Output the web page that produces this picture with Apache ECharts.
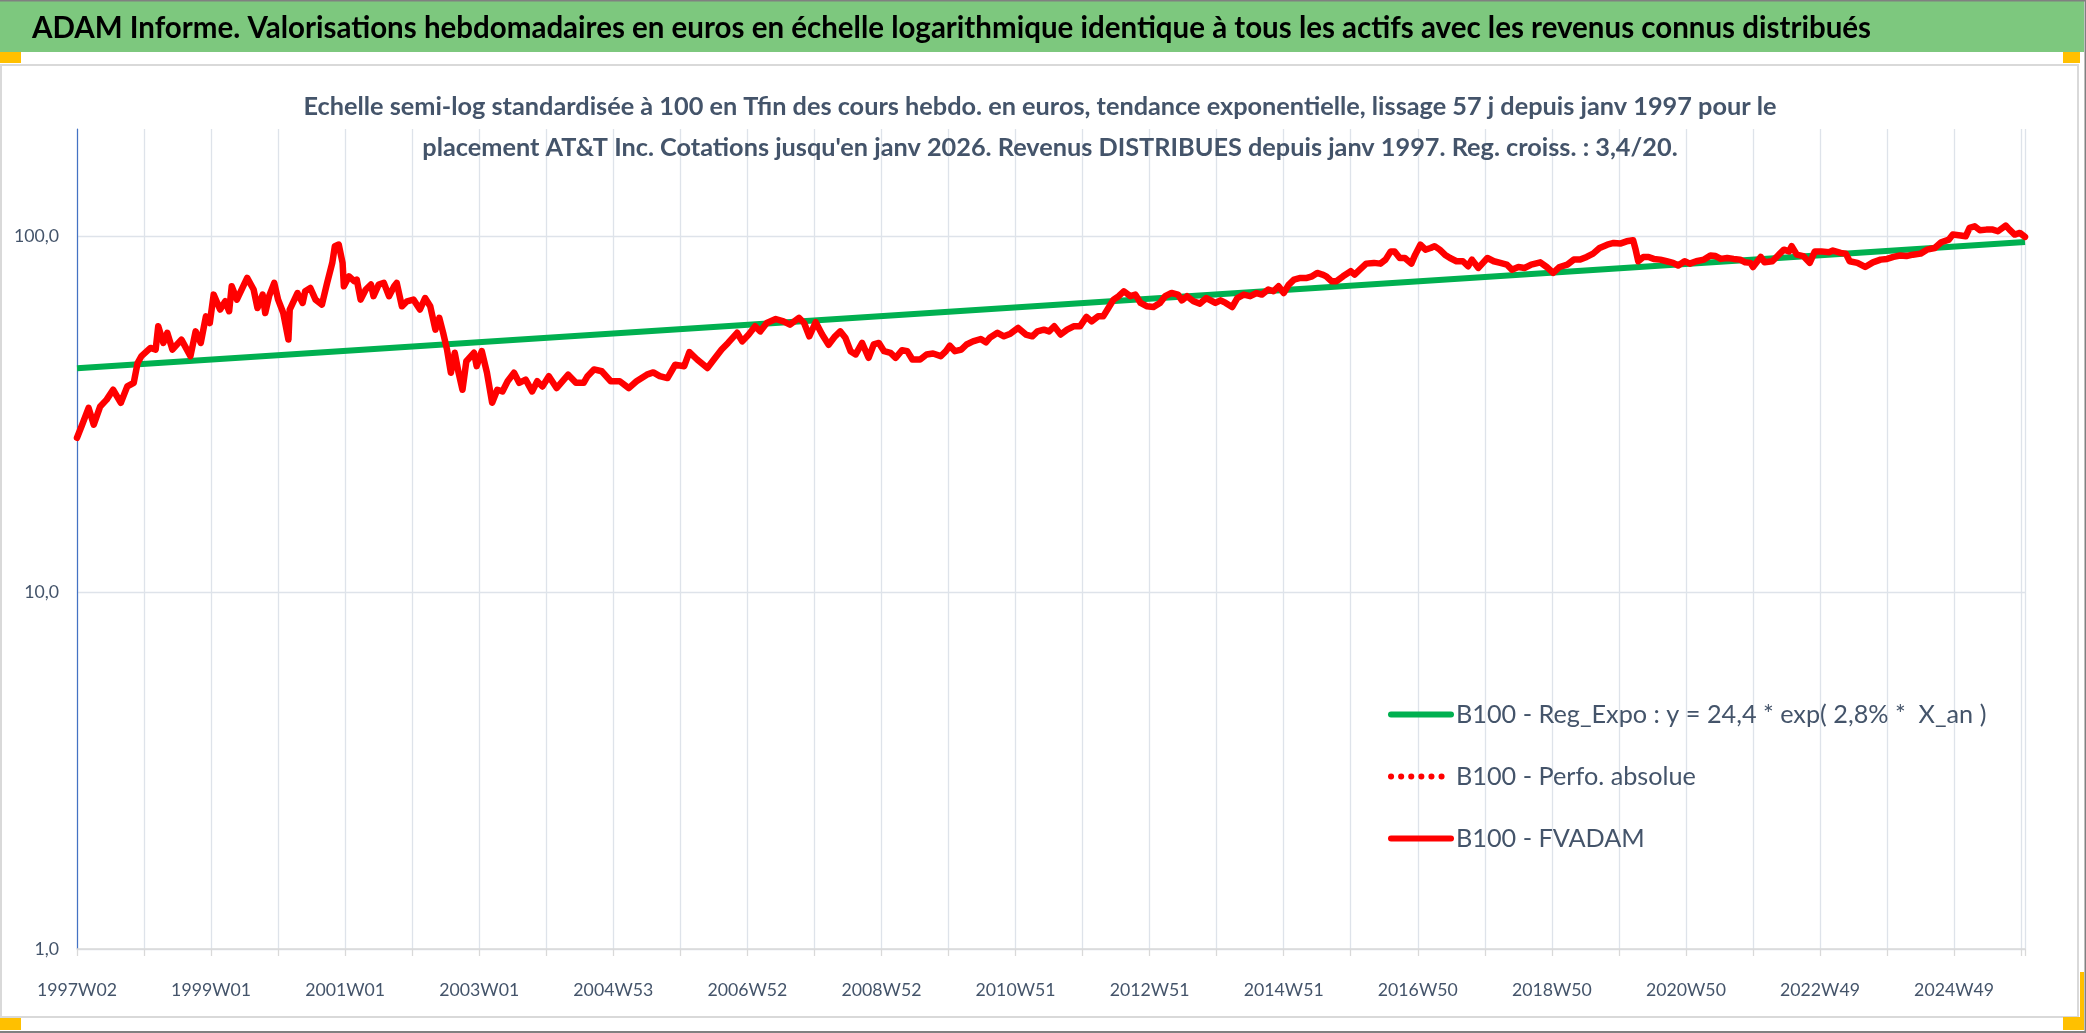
<!DOCTYPE html>
<html><head><meta charset="utf-8">
<script src="https://cdn.jsdelivr.net/npm/echarts@6.0.0/dist/echarts.min.js"></script>
<style>html,body{margin:0;padding:0;background:#fff;}#c{width:2086px;height:1033px;}</style>
</head><body><div id="c"></div>
<script>
// ---- data ----
const tickLabels = ['1997W02','1999W01','2001W01','2003W01','2004W53','2006W52','2008W52','2010W51','2012W51','2014W51','2016W50','2018W50','2020W50','2022W49','2024W49'];
const seriesNames = ['B100 - Reg_Expo : y = 24,4 * exp( 2,8% *  X_an )','B100 - Perfo. absolue','B100 - FVADAM'];
const titleText = 'ADAM Informe. Valorisations hebdomadaires en euros en échelle logarithmique identique à tous les actifs avec les revenus connus distribués';
const subtitleLines = ["Echelle semi-log standardisée à 100 en Tfin des cours hebdo. en euros, tendance exponentielle, lissage 57 j depuis janv 1997 pour le",
  "placement AT&T Inc. Cotations jusqu'en janv 2026. Revenus DISTRIBUES depuis janv 1997. Reg. croiss. : 3,4/20."];
// week index counted from 1997W02
const fvWeeks = [0,4,9,13,18,23,28,34,39,44,47,50,57,61,63,67,70,74,81,88,92,96,100,103,106,111,115,118,120,124,132,137,140,144,146,149,153,156,160,164,165,171,175,177,181,185,190,194,198,200,203,206,207,211,215,217,220,224,228,230,234,238,242,246,248,252,256,261,266,
270,274,278,281,284,287,290,293,296,299,302,308,310,314,318,322,326,330,334,339,343,348,353,357,361,366,372,381,387,393,396,401,407,414,421,428,434,442,447,452,458,464,471,475,481,489,494,500,505,512,516,521,526,530,535,542,548,553,560,564,568,573,578,583,588,592,
596,600,604,609,614,618,622,626,631,635,640,644,648,654,659,664,670,674,677,681,686,690,695,701,705,708,714,719,724,730,736,741,745,750,754,758,763,768,773,778,783,787,792,796,800,804,808,812,817,821,825,830,835,840,844,849,854,857,861,866,871,876,883,
887,891,896,900,905,910,915,919,924,928,932,936,940,944,949,954,958,962,966,969,973,977,982,988,991,995,1000,1006,1011,1015,1019,1022,1026,1030,1035,1038,1042,1046,1050,1053,1057,1061,1065,1070,1075,1079,1082,1087,1094,1099,1104,1109,1113,1118,1123,1128,1135,1140,1145,1150,1156,1161,1166,1171,1176,1181,1187,1192,1197,1202,1207,
1209,1211,1215,1219,1223,1228,1233,1238,1242,1247,1251,1256,1262,1267,1271,1275,1280,1285,1290,1294,1298,1300,1306,1309,1315,1320,1324,1328,1330,1334,1339,1344,1348,1353,1359,1362,1368,1372,1375,1381,1387,1393,1399,1404,1409,1414,1419,1424,1430,1435,1441,1446,1452,1455,1461,1465,1468,1472,1476,1481,1486,1490,1496,1499,1503,1507,1511];
const fvValues = [27.2,29.6,33.0,29.6,33.3,34.8,37.1,34.1,37.9,38.8,44.1,46.1,48.6,48.1,55.9,50.2,53.6,48.1,51.3,46.1,54.1,50.2,59.6,57.1,68.6,62.3,65.7,61.6,72.4,66.4,76.4,70.9,62.9,68.6,60.9,67.9,74.0,66.4,60.9,51.3,62.3,69.3,65.0,70.1,71.6,66.4,64.3,74.0,84.2,93.8,94.8,84.2,72.4,77.2,74.8,75.6,66.4,70.9,73.2,67.9,73.2,74.0,67.9,72.4,74.0,63.6,65.7,66.4,62.3,
67.1,63.6,54.7,59.0,53.6,48.1,41.4,47.1,41.4,37.1,44.6,47.1,43.2,47.6,41.4,34.1,37.1,36.7,39.2,41.4,38.8,39.6,36.7,39.2,37.9,40.5,37.5,40.9,38.8,38.8,40.5,42.3,41.8,39.2,39.2,37.5,39.2,40.9,41.5,40.5,40.0,43.6,43.2,47.3,45.1,42.7,45.1,48.1,50.2,53.6,50.7,53.0,55.9,54.1,57.1,58.6,57.7,56.5,59.0,57.1,52.4,57.4,53.0,49.6,52.4,54.1,
51.9,47.6,46.6,50.2,45.6,49.7,50.2,47.6,47.1,45.6,47.9,47.6,45.1,45.1,46.6,46.9,46.1,47.6,49.3,47.6,48.1,49.7,50.7,51.5,50.4,51.9,53.6,52.4,53.3,55.3,53.0,52.4,54.1,54.7,54.1,55.9,53.0,54.7,55.9,55.9,59.4,57.7,59.6,59.6,62.9,66.4,67.9,70.1,67.9,68.6,65.0,63.6,63.3,65.0,67.9,69.3,68.6,66.1,67.9,65.7,64.7,67.1,65.0,
66.1,65.0,63.3,67.1,68.6,67.9,69.3,68.6,70.9,70.1,72.4,69.3,73.2,75.6,76.4,76.4,77.2,78.9,78.1,77.2,74.8,74.8,77.2,79.8,78.1,80.6,83.8,84.2,83.8,86.0,90.7,90.7,86.9,86.9,83.8,88.8,94.7,91.7,92.7,93.8,91.7,88.8,86.9,85.1,85.1,82.4,86.0,81.5,86.9,85.1,84.2,83.3,80.6,82.0,81.5,83.3,84.5,82.0,78.9,82.0,83.3,86.0,86.0,87.5,89.4,92.7,94.7,95.8,95.4,96.8,97.5,
91.7,85.1,87.5,87.5,86.4,86.0,85.1,84.2,82.8,85.1,83.8,85.1,86.0,88.3,88.0,86.4,86.9,86.4,86.0,84.5,84.2,82.0,87.5,84.5,85.1,88.8,91.7,90.7,93.8,88.8,88.0,84.2,90.7,90.7,90.2,91.2,89.8,89.4,85.1,84.2,82.0,84.5,86.0,86.4,87.5,88.3,88.0,88.8,89.4,91.7,92.7,96.2,97.9,101.1,100.5,100.0,105.6,106.7,104.0,104.4,104.4,103.3,107.2,104.4,101.1,102.2,99.6];
const regWeeks = [0, 1511];
const regValues = [42.6, 96.3];

// ---- helpers ----
const FONT = 'Lato';
function fit(text, weight, target) {
  const ctx = document.createElement('canvas').getContext('2d');
  ctx.font = weight + ' 100px ' + FONT;
  return 100 * target / ctx.measureText(text).width;
}
const titleSize = fit(titleText, 'bold', 1840);
const subSize = fit(subtitleLines[0], 'bold', 1474);
const legSize = fit(seriesNames[1], 'normal', 240);
const axSize = fit('2018W50', 'normal', 80);

const zip = (a, b) => a.map((v, i) => [v, b[i]]);
const fvData = zip(fvWeeks, fvValues);
const regData = zip(regWeeks, regValues);

const txtColor = '#44546A';
const gridColor = '#DEE3EA';

const chart = echarts.init(document.getElementById('c'), null, {renderer: 'canvas'});
chart.setOption({
  backgroundColor: '#ffffff',
  animation: false,
  grid: {left: 77, top: 129, width: 1948, height: 820},
  xAxis: {
    type: 'value', min: 0, max: 1511, interval: 52,
    axisLine: {onZero: false, lineStyle: {color: '#D9D9D9', width: 1.5}},
    axisTick: {show: true, length: 7, lineStyle: {color: '#D9D9D9', width: 1.3}},
    splitLine: {show: true, lineStyle: {color: gridColor, width: 1.3}},
    axisLabel: {
      color: txtColor, fontFamily: FONT, fontSize: axSize, margin: 41 - axSize / 2,
      formatter: v => (v % 104 === 0 && tickLabels[v / 104]) ? tickLabels[v / 104] : ''
    }
  },
  yAxis: {
    type: 'log', logBase: 10, min: 1, max: 200,
    axisLine: {show: true, lineStyle: {color: '#4472C4', width: 1.2}},
    axisTick: {show: false},
    splitLine: {show: true, showMaxLine: false, lineStyle: {color: gridColor, width: 1.3}},
    axisLabel: {
      color: txtColor, fontFamily: FONT, fontSize: axSize, margin: 18, showMaxLabel: false,
      formatter: v => v > 150 ? '' : v.toFixed(1).replace('.', ',')
    }
  },
  legend: {
    orient: 'vertical', left: 1383, top: 709 - 12,
    itemWidth: 60, itemHeight: 14, itemGap: 37,
    data: seriesNames,
    itemStyle: {opacity: 0},
    lineStyle: {width: 6, cap: 'round'},
    textStyle: {color: txtColor, fontFamily: FONT, fontSize: legSize, lineHeight: 24}
  },
  series: [
    {name: seriesNames[0], type: 'line', data: regData, showSymbol: false, symbol: 'none',
     lineStyle: {color: '#00B050', width: 6}, itemStyle: {color: '#00B050'}, z: 2},
    {name: seriesNames[1], type: 'line', data: fvData, showSymbol: false, symbol: 'none',
     lineStyle: {color: '#FF0000', width: 5, type: [0.1, 10], cap: 'round'}, itemStyle: {color: '#FF0000'}, z: 3},
    {name: seriesNames[2], type: 'line', data: fvData, showSymbol: false, symbol: 'none',
     lineStyle: {color: '#FF0000', width: 6.5, join: 'round', cap: 'round'}, itemStyle: {color: '#FF0000'}, z: 4}
  ],
  graphic: [
    {type: 'rect', z: -10, shape: {x: 0, y: 0, width: 2084, height: 52}, style: {fill: '#7DC87E'}},
    {type: 'rect', z: -9, shape: {x: 0, y: 0, width: 2086, height: 1.5}, style: {fill: '#808080'}},
    {type: 'rect', z: -9, shape: {x: 0, y: 1031, width: 2086, height: 2}, style: {fill: '#808080'}},
    {type: 'rect', z: -9, shape: {x: 2084.5, y: 0, width: 1.5, height: 1033}, style: {fill: '#808080'}},
    {type: 'rect', z: -9, shape: {x: 1, y: 65, width: 2077, height: 952}, style: {fill: 'none', stroke: '#D9D9D9', lineWidth: 2}},
    {type: 'rect', z: -8, shape: {x: 0, y: 52, width: 21, height: 11}, style: {fill: '#FFC000'}},
    {type: 'rect', z: -8, shape: {x: 2063, y: 52, width: 17, height: 11}, style: {fill: '#FFC000'}},
    {type: 'rect', z: -8, shape: {x: 0, y: 1018, width: 21, height: 12}, style: {fill: '#FFC000'}},
    {type: 'rect', z: -8, shape: {x: 2063, y: 1017, width: 21, height: 13}, style: {fill: '#FFC000'}},
    {type: 'rect', z: -8, shape: {x: 2080, y: 972, width: 4, height: 46}, style: {fill: '#FFC000'}},
    {type: 'text', z: 5, style: {text: titleText, x: 32, y: 28, fill: '#000000', fontFamily: FONT, fontWeight: 'bold', fontSize: titleSize, align: 'left', verticalAlign: 'middle'}},
    {type: 'text', z: 5, style: {text: subtitleLines[0], x: 1040, y: 107, fill: txtColor, fontFamily: FONT, fontWeight: 'bold', fontSize: subSize, align: 'center', verticalAlign: 'middle'}},
    {type: 'text', z: 5, style: {text: subtitleLines[1], x: 1050, y: 148, fill: txtColor, fontFamily: FONT, fontWeight: 'bold', fontSize: subSize, align: 'center', verticalAlign: 'middle'}}
  ]
});
</script>
</body></html>
